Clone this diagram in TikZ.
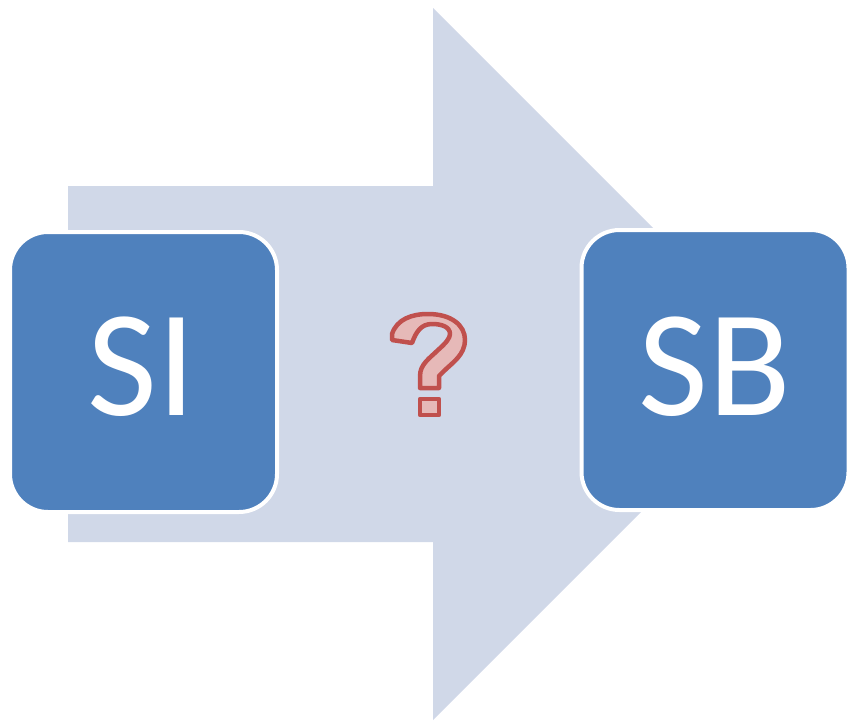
\documentclass[tikz,border=0pt]{standalone}
\usepackage{fontspec}
\setmainfont{Carlito}
\definecolor{arrowfill}{HTML}{D0D8E8}
\definecolor{boxfill}{HTML}{4F81BD}
\definecolor{qfill}{HTML}{E6B9B8}
\definecolor{qdraw}{HTML}{C0504D}
\tikzset{
  bigbox/.style={rectangle, rounded corners=38pt, fill=boxfill, draw=white, line width=4pt, minimum width=267pt, minimum height=280pt, inner sep=0pt},
  bigtext/.style={anchor=base, inner sep=0pt, text=white, font=\fontsize{152}{152}\selectfont},
  qmark/.style={fill=qfill, draw=qdraw, line width=4.5pt, line join=round}
}
\begin{document}
\begin{tikzpicture}[x=1pt, y=-1pt]
\useasboundingbox (0,0) rectangle (848,720);
% big arrow
\fill[arrowfill] (68,186) -- (433,186) -- (433,8) -- (789,364) -- (433,720) -- (433,542) -- (68,542) -- cycle;
% boxes
\node[bigbox] (si) at (143.5,372) {};
\node[bigbox] (sb) at (715,370) {};
\node[bigtext] (sitext) at (142,415) {SI};
\node[bigtext] (sbtext) at (715,415) {SB};
% question mark
\path[qmark] (392,334) .. controls (397,319) and (412,314) .. (428,314)
  .. controls (451,314) and (465,325) .. (465,340)
  .. controls (465,355) and (452,363) .. (444,371)
  -- (439,376) -- (439,388) -- (420,388) -- (420,376)
  .. controls (420,364) and (430,358) .. (438,350)
  .. controls (446,343) and (450,338) .. (450,334)
  .. controls (450,327) and (442,324) .. (432,324)
  .. controls (421,324) and (416,332) .. (412,343)
  -- (392,340) -- cycle;
\path[qmark] (420,399) rectangle (439,415);
\end{tikzpicture}
\end{document}
